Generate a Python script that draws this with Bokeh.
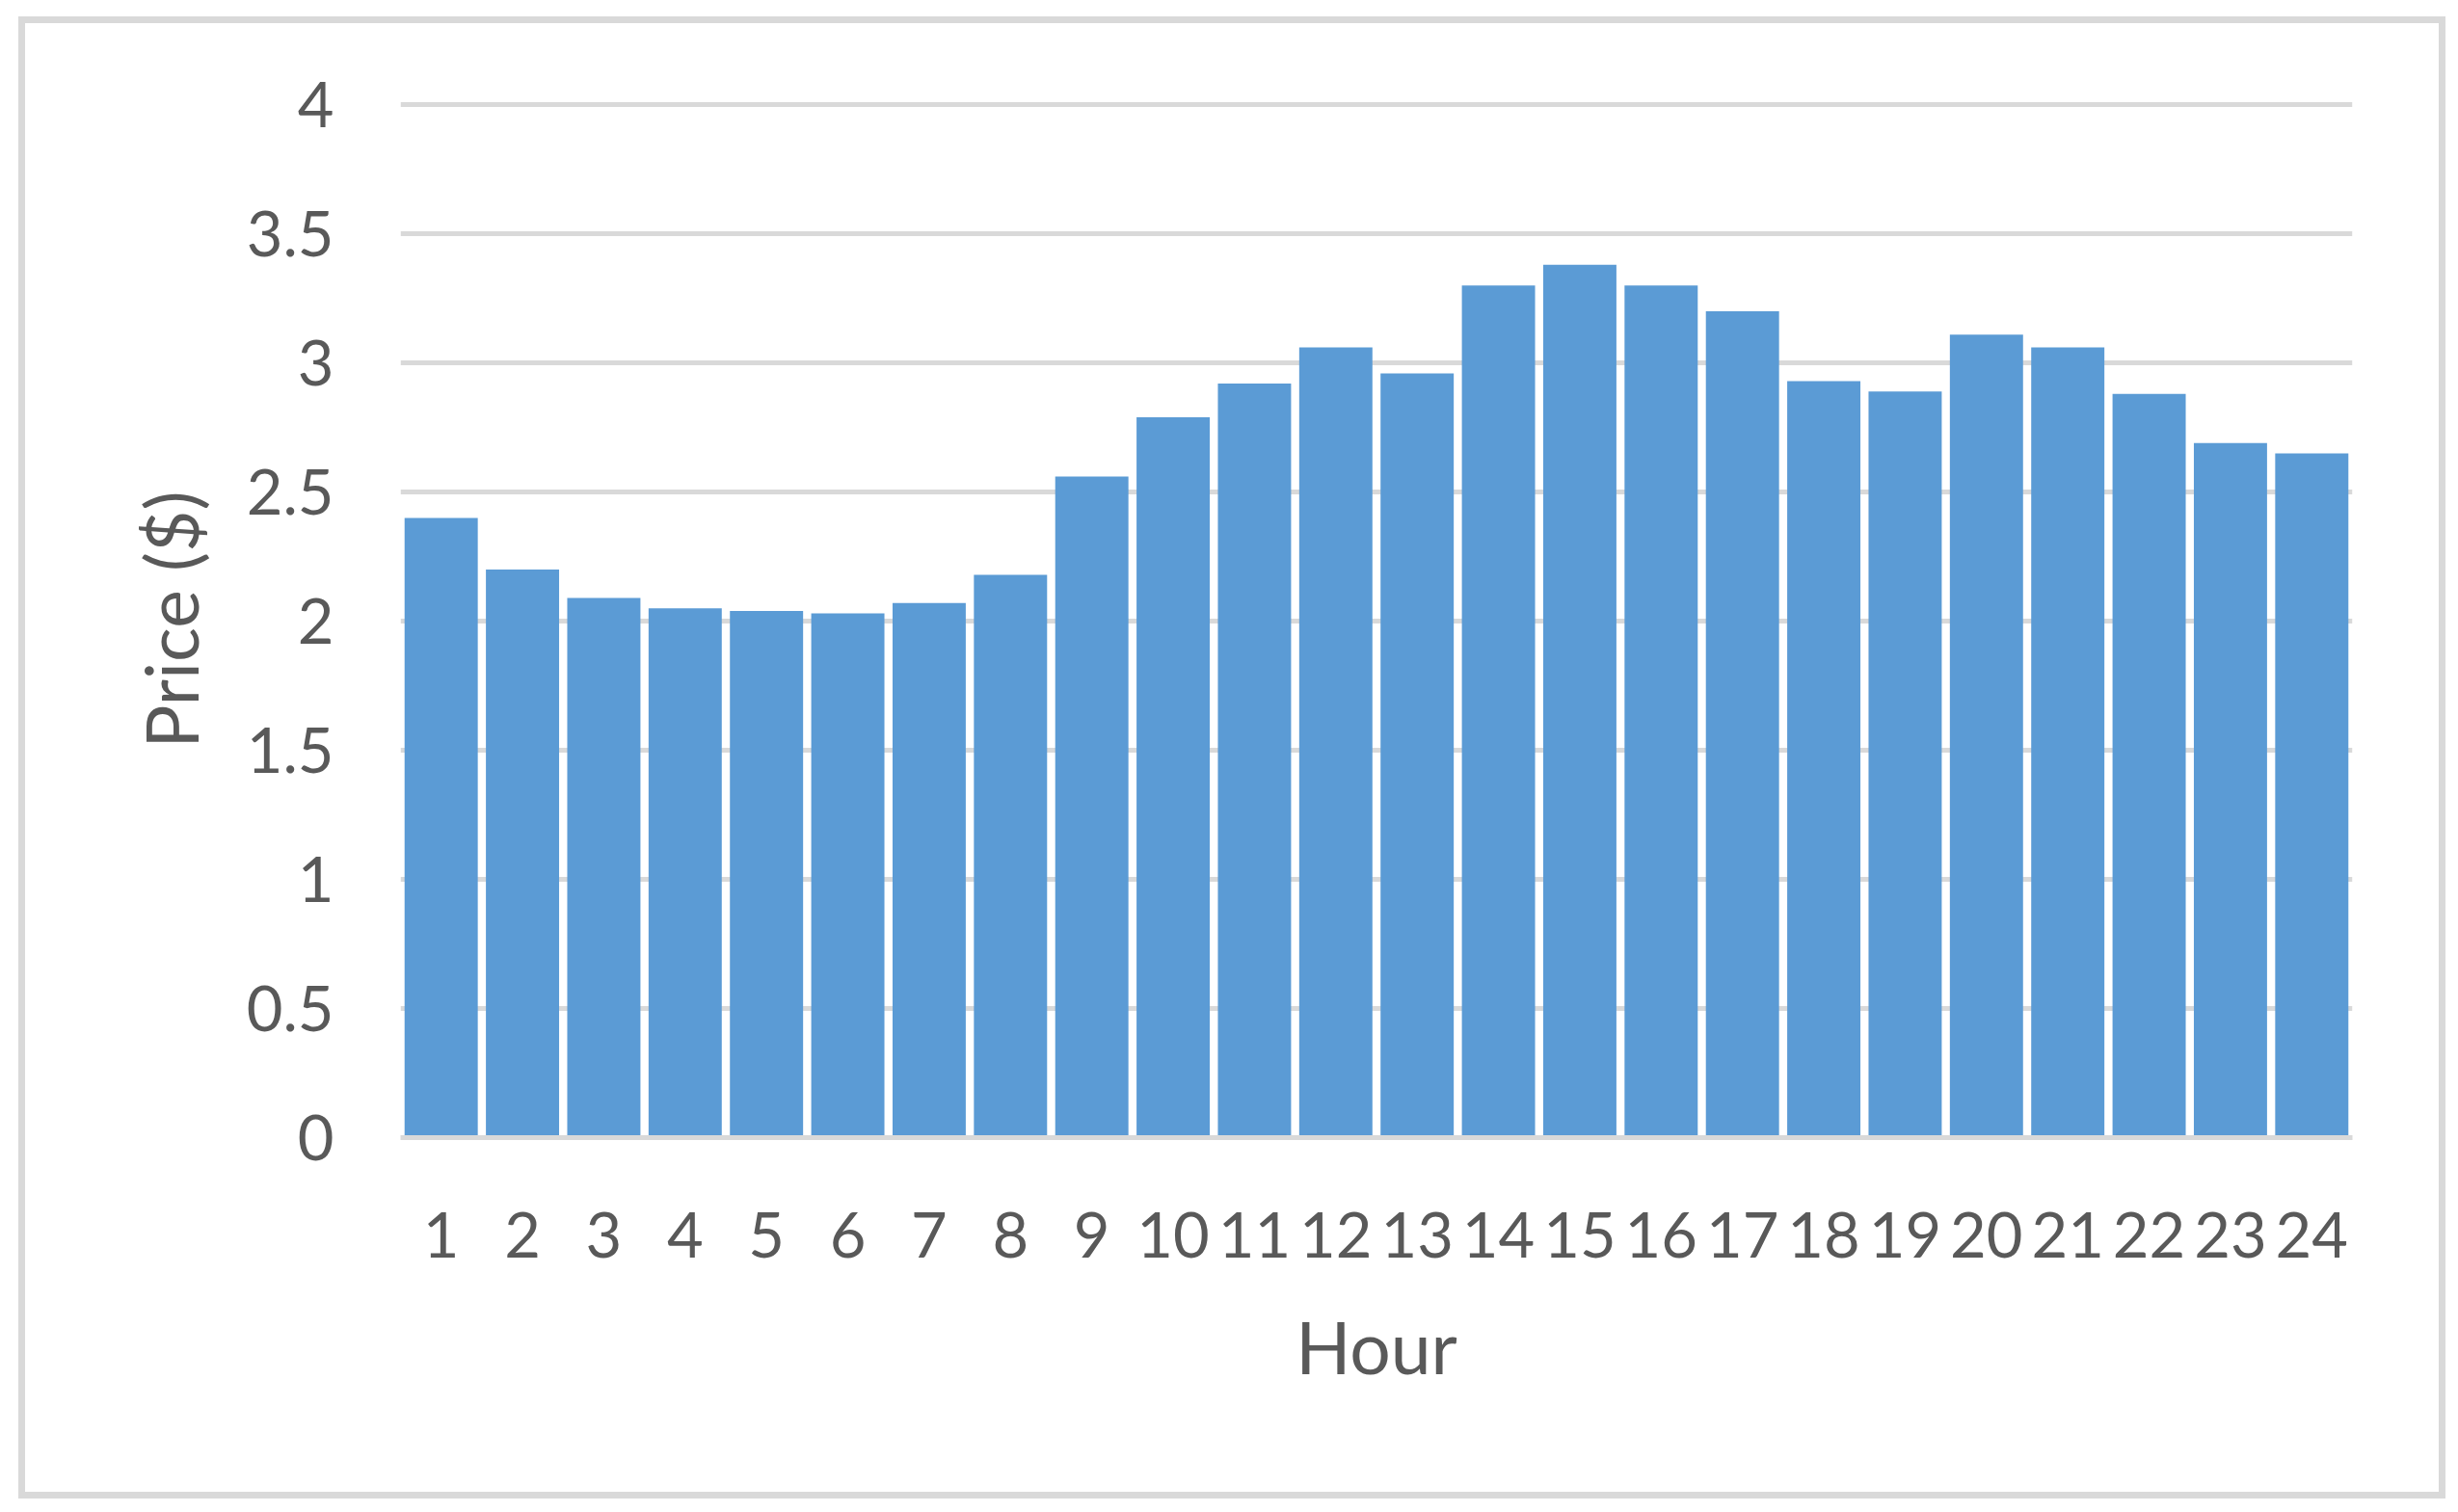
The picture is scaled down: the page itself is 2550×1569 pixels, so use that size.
from bokeh.plotting import figure
from bokeh.models import FixedTicker, Range1d, FactorRange
from bokeh.embed import file_html
from bokeh.resources import INLINE

# ---- data ----
hours = ["1", "2", "3", "4", "5", "6", "7", "8", "9", "10", "11", "12",
         "13", "14", "15", "16", "17", "18", "19", "20", "21", "22", "23", "24"]
prices = [2.40, 2.20, 2.09, 2.05, 2.04, 2.03, 2.07, 2.18, 2.56, 2.79, 2.92, 3.06,
          2.96, 3.30, 3.38, 3.30, 3.20, 2.93, 2.89, 3.11, 3.06, 2.88, 2.69, 2.65]
y_ticks = [0, 0.5, 1, 1.5, 2, 2.5, 3, 3.5, 4]
y_tick_labels = ["0", "0.5", "1", "1.5", "2", "2.5", "3", "3.5", "4"]
x_title = "Hour"
y_title = "Price ($)"

FONT = "Lato"
TEXT = "#595959"
GRID = "#D9D9D9"
BAR = "#5B9BD5"

p = figure(
    x_range=FactorRange(*hours, range_padding=0),
    y_range=Range1d(0, 4.012),
    frame_width=2025, frame_height=1075,
    min_border_left=396, min_border_right=97,
    min_border_top=88, min_border_bottom=375,
    output_backend="svg", toolbar_location=None,
)
p.styles = {"outline": "7px solid #D9D9D9", "outline-offset": "-7px",
            "margin-left": "19px", "margin-top": "17px"}
p.border_fill_color = None
p.background_fill_color = "white"
p.outline_line_color = None

p.vbar(x=hours, top=prices, width=0.9, fill_color=BAR, line_color=None)

p.xgrid.visible = False
p.ygrid.grid_line_color = GRID
p.ygrid.grid_line_width = 5
p.ygrid.ticker = FixedTicker(ticks=y_ticks)

ya = p.yaxis[0]
ya.ticker = FixedTicker(ticks=y_ticks)
ya.major_label_overrides = {t: l for t, l in zip(y_ticks, y_tick_labels)}
ya.axis_line_color = None
ya.major_tick_line_color = None
ya.minor_tick_line_color = None
ya.major_label_standoff = 63
ya.major_label_text_font = FONT
ya.major_label_text_font_size = "65px"
ya.major_label_text_color = TEXT
ya.axis_label = y_title
ya.axis_label_text_font = FONT
ya.axis_label_text_font_size = "75px"
ya.axis_label_text_font_style = "normal"
ya.axis_label_text_color = TEXT
ya.axis_label_standoff = 31

xa = p.xaxis[0]
xa.axis_line_color = GRID
xa.axis_line_width = 5
xa.major_tick_line_color = None
xa.minor_tick_line_color = None
xa.major_label_standoff = 71
xa.major_label_text_font = FONT
xa.major_label_text_font_size = "65px"
xa.major_label_text_color = TEXT
xa.axis_label = x_title
xa.axis_label_text_font = FONT
xa.axis_label_text_font_size = "75px"
xa.axis_label_text_font_style = "normal"
xa.axis_label_text_color = TEXT
xa.axis_label_standoff = 44

open("out.html", "w").write(file_html(p, INLINE))
